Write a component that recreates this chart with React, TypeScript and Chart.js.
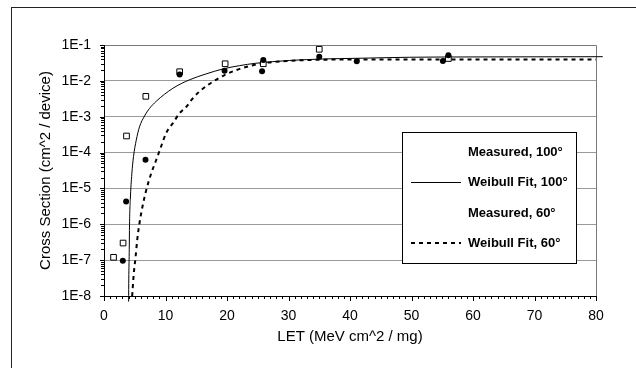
import React, { useEffect, useRef } from 'react';
import { Chart, registerables } from 'chart.js';

Chart.register(...registerables);

// ---- data ----
const seriesLabels = ['Measured, 100°', 'Weibull Fit, 100°', 'Measured, 60°', 'Weibull Fit, 60°'];

const measured100LET = [1.55, 3.1, 3.66, 6.8, 12.3, 19.7, 25.9, 35.0, 56.0];
const measured100XS = [1.2e-7, 3.0e-7, 2.9e-4, 3.7e-3, 1.8e-2, 3.0e-2, 3.0e-2, 7.6e-2, 4.2e-2];

const measured60LET = [3.06, 3.6, 6.75, 12.3, 19.6, 25.7, 25.9, 35.0, 41.1, 55.1, 56.0];
const measured60XS = [9.6e-8, 4.3e-6, 6.3e-5, 1.5e-2, 1.9e-2, 1.85e-2, 3.8e-2, 4.7e-2, 3.5e-2, 3.6e-2, 5.2e-2];

const fit100LET = [4.0, 4.03, 4.1, 4.15, 4.28, 4.52, 4.8, 5.24, 5.77, 6.6, 7.4, 8.5, 11.2, 13.9, 16.6, 19.3, 22.0, 24.7, 30.2, 35.6, 41, 49.7, 60, 81.1];
const fit100XS = [7e-9, 3e-8, 1.6e-7, 1e-6, 5e-6, 2.5e-5, 7.8e-5, 2.2e-4, 5.2e-4, 1.05e-3, 1.7e-3, 2.7e-3, 6.2e-3, 1.07e-2, 1.56e-2, 2.14e-2, 2.65e-2, 3.1e-2, 3.7e-2, 4.07e-2, 4.25e-2, 4.55e-2, 4.65e-2, 4.72e-2];

const fit60LET = [4.58, 4.85, 5.12, 5.4, 5.77, 6.3, 6.86, 7.7, 8.5, 9.3, 10.1, 11.2, 12.3, 13.4, 14.4, 15.5, 16.9, 18.2, 19.6, 21.5, 23.7, 25.8, 30.2, 35.6, 45, 80];
const fit60XS = [1e-8, 4.4e-8, 1.15e-7, 3.7e-7, 1.07e-6, 3.4e-6, 8.9e-6, 2.7e-5, 6.3e-5, 1.5e-4, 3.5e-4, 6.6e-4, 1.26e-3, 1.9e-3, 3.2e-3, 5e-3, 7.7e-3, 1.07e-2, 1.45e-2, 2e-2, 2.6e-2, 3.1e-2, 3.6e-2, 3.9e-2, 3.95e-2, 3.95e-2];

const xTickValues = [0, 10, 20, 30, 40, 50, 60, 70, 80];
const yTickValues = [1e-8, 1e-7, 1e-6, 1e-5, 1e-4, 1e-3, 1e-2, 1e-1];
const xMinorStep = 1;

const xTitle = 'LET (MeV cm^2 / mg)';
const yTitle = 'Cross Section (cm^2 / device)';

const FONT = '"Liberation Sans", Arial, Helvetica, sans-serif';

const pts = (xs: number[], ys: number[]) => xs.map((x, i) => ({ x, y: ys[i] }));

export default function App() {
  const ref = useRef<HTMLCanvasElement>(null);

  useEffect(() => {
    const canvas = ref.current;
    if (!canvas) return;

    const axesPlugin = {
      id: 'axesPlugin',
      beforeDatasetsDraw(chart: any) {
        const { ctx, chartArea } = chart;
        const { left, right, top, bottom } = chartArea;
        const ax = chart.scales.x;
        const ay = chart.scales.y;
        ctx.save();
        ctx.lineWidth = 1;
        // plot border (top / right)
        ctx.strokeStyle = '#7a7a7a';
        ctx.beginPath();
        ctx.moveTo(left, top + 0.5);
        ctx.lineTo(right + 0.5, top + 0.5);
        ctx.lineTo(right + 0.5, bottom);
        ctx.stroke();
        // axes lines
        ctx.strokeStyle = '#000';
        ctx.beginPath();
        ctx.moveTo(left + 0.5, top);
        ctx.lineTo(left + 0.5, bottom + 0.5);
        ctx.lineTo(right + 1, bottom + 0.5);
        ctx.stroke();
        // y ticks
        ctx.beginPath();
        for (let i = 0; i < yTickValues.length; i++) {
          const v = yTickValues[i];
          const py = Math.round(ay.getPixelForValue(v)) + 0.5;
          ctx.moveTo(left - 4, py);
          ctx.lineTo(left + 1, py);
          if (i < yTickValues.length - 1) {
            for (let k = 2; k <= 9; k++) {
              const my = Math.round(ay.getPixelForValue(v * k)) + 0.5;
              ctx.moveTo(left - 3, my);
              ctx.lineTo(left, my);
            }
          }
        }
        // x ticks
        const xmin = xTickValues[0];
        const xmax = xTickValues[xTickValues.length - 1];
        for (let v = xmin; v <= xmax + 1e-9; v += xMinorStep) {
          const px = Math.round(ax.getPixelForValue(v)) + 0.5;
          const major = xTickValues.includes(v);
          ctx.moveTo(px, bottom);
          ctx.lineTo(px, bottom + (major ? 5 : 3));
        }
        ctx.stroke();
        ctx.restore();
      },
      afterDatasetsDraw(chart: any) {
        const { ctx, chartArea } = chart;
        const bx = chartArea.left + 298;
        const by = chartArea.top + 87;
        const bw = 174;
        const bh = 131;
        ctx.save();
        ctx.fillStyle = '#fff';
        ctx.fillRect(bx, by, bw, bh);
        ctx.strokeStyle = '#000';
        ctx.lineWidth = 1;
        ctx.strokeRect(bx + 0.5, by + 0.5, bw, bh);
        ctx.font = `bold 13px ${FONT}`;
        ctx.textBaseline = 'middle';
        ctx.textAlign = 'left';
        ctx.fillStyle = '#000';
        chart.data.datasets.forEach((ds: any, i: number) => {
          const ry = Math.round(by + 20 + i * 30.3);
          ctx.fillText(ds.label, bx + 66, ry);
          if (ds.showLine !== false) {
            ctx.save();
            ctx.strokeStyle = ds.borderColor;
            ctx.lineWidth = ds.borderWidth;
            ctx.setLineDash(ds.borderDash || []);
            ctx.beginPath();
            const ly = ds.borderWidth % 2 === 1 ? ry + 0.5 : ry;
            ctx.moveTo(bx + 9, ly);
            ctx.lineTo(bx + 59, ly);
            ctx.stroke();
            ctx.restore();
          }
        });
        ctx.restore();
      },
    };

    const chart = new Chart(canvas, {
      type: 'scatter',
      data: {
        datasets: [
          {
            label: seriesLabels[0],
            data: pts(measured100LET, measured100XS),
            showLine: false,
            pointStyle: 'rect',
            pointRadius: 4,
            pointBackgroundColor: '#fff',
            pointBorderColor: '#000',
            pointBorderWidth: 1,
            order: 1,
          },
          {
            label: seriesLabels[1],
            data: pts(fit100LET, fit100XS),
            showLine: true,
            borderColor: '#000',
            borderWidth: 1,
            pointRadius: 0,
            cubicInterpolationMode: 'monotone',
            clip: false,
            order: 2,
          },
          {
            label: seriesLabels[2],
            data: pts(measured60LET, measured60XS),
            showLine: false,
            pointStyle: 'circle',
            pointRadius: 3,
            pointBackgroundColor: '#000',
            pointBorderColor: '#000',
            pointBorderWidth: 0,
            order: 0,
          },
          {
            label: seriesLabels[3],
            data: pts(fit60LET, fit60XS),
            showLine: true,
            borderColor: '#000',
            borderWidth: 2,
            borderDash: [4, 4],
            pointRadius: 0,
            cubicInterpolationMode: 'monotone',
            order: 3,
          },
        ] as any,
      },
      options: {
        responsive: false,
        animation: false,
        events: [],
        layout: { padding: { left: 0, top: 45, right: 40, bottom: 0 } },
        plugins: {
          legend: { display: false },
          tooltip: { enabled: false },
        },
        scales: {
          x: {
            type: 'linear',
            min: 0,
            max: 80,
            afterBuildTicks: (scale: any) => {
              scale.ticks = xTickValues.map((v) => ({ value: v }));
            },
            afterFit: (scale: any) => {
              scale.height = 72;
            },
            grid: { display: false, drawTicks: false },
            border: { display: false },
            ticks: {
              color: '#000',
              padding: 12,
              maxRotation: 0,
              autoSkip: false,
              font: { family: FONT, size: 14 },
            },
            title: {
              display: true,
              text: xTitle,
              color: '#000',
              font: { family: FONT, size: 15 },
              padding: { top: 0, bottom: 22 },
            },
          },
          y: {
            type: 'logarithmic',
            min: 1e-8,
            max: 1e-1,
            afterBuildTicks: (scale: any) => {
              scale.ticks = yTickValues.map((v) => ({ value: v }));
            },
            afterFit: (scale: any) => {
              scale.width = 104;
            },
            grid: { color: '#9a9a9a', drawTicks: false, lineWidth: 1 },
            border: { display: false },
            ticks: {
              color: '#000',
              padding: 13,
              autoSkip: false,
              font: { family: FONT, size: 14 },
              callback: (v: any) => `1E${Math.round(Math.log10(Number(v)))}`,
            },
            title: {
              display: true,
              text: yTitle,
              color: '#000',
              font: { family: FONT, size: 15 },
              padding: { top: 37, bottom: 0 },
            },
          },
        },
      },
      plugins: [axesPlugin],
    } as any);

    return () => chart.destroy();
  }, []);

  return (
    <div style={{ position: 'fixed', left: 0, top: 0, width: 636, height: 368, overflow: 'hidden', background: '#fff' }}>
      <div
        style={{
          position: 'absolute',
          left: 11,
          top: 7,
          right: 0,
          bottom: 0,
          borderTop: '1px solid #222',
          borderLeft: '1px solid #222',
        }}
      />
      <canvas ref={ref} width={636} height={368} style={{ position: 'absolute', left: 0, top: 0, width: 636, height: 368 }} />
    </div>
  );
}
